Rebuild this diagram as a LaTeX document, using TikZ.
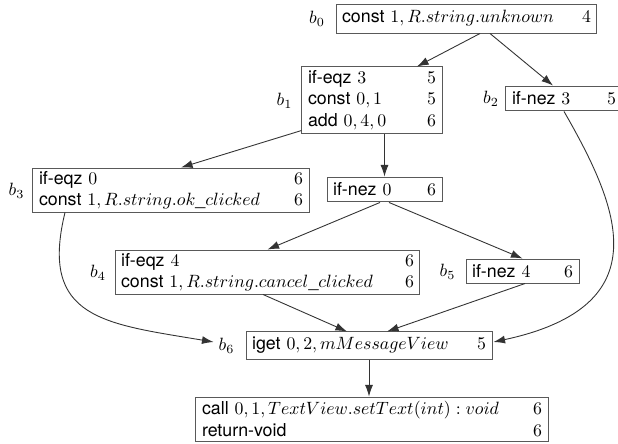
\documentclass[tikz,border=0pt]{standalone}
\usepackage{fontspec}
\setsansfont{TeX Gyre Heros}
\usetikzlibrary{arrows.meta,calc}
\tikzset{
  blk/.style={draw=black!65, line width=0.55pt, rectangle, inner xsep=3.4pt, inner ysep=0pt, align=left, font=\sffamily, anchor=center},
  lbl/.style={inner sep=1pt},
  edge/.style={draw=black!80, line width=0.5pt, -{Latex[length=6.5pt,width=4.5pt]}}
}
\begin{document}
\begin{tikzpicture}[x=0.5618pt,y=-0.5618pt]
\useasboundingbox (0,0) rectangle (618,443);
% blocks
\node[blk, text width=139.8pt, minimum height=16.3pt] (b0) at (466.5,18.5) {const $1, R.string.unknown$\hfill$4$};
\node[blk, text width=71.9pt, minimum height=37.1pt] (b1) at (372,100) {if-eqz $3$\hfill$5$\\const $0,1$\hfill$5$\\add $0,4,0$\hfill$6$};
\node[blk, text width=58.4pt, minimum height=14pt] (b2) at (564,98.5) {if-nez $3$\hfill$5$};
\node[blk, text width=57.8pt, minimum height=14pt] (n0) at (384.5,189.5) {if-nez $0$\hfill$6$};
\node[blk, text width=148.3pt, minimum height=24.7pt] (b3) at (171,190) {if-eqz $0$\hfill$6$\\const $1, R.string.ok\_clicked$\hfill$6$};
\node[blk, text width=164.5pt, minimum height=24.7pt] (b4) at (267.5,272) {if-eqz $4$\hfill$6$\\const $1, R.string.cancel\_clicked$\hfill$6$};
\node[blk, text width=56.7pt, minimum height=13.5pt] (b5) at (522.5,271) {if-nez $4$\hfill$6$};
\node[blk, text width=131.4pt, minimum height=15.2pt] (b6) at (369,345.5) {iget $0,2, mMessageView$\hfill$5$};
\node[blk, text width=191pt, minimum height=24.7pt] (b7) at (372,419) {call $0,1, TextView.setText(int) : void$\hfill$6$\\return-void\hfill$6$};
% labels
\node[lbl] (l0) at (317,19) {$b_0$};
\node[lbl] (l1) at (284.5,101) {$b_1$};
\node[lbl] (l2) at (491,99) {$b_2$};
\node[lbl] (l3) at (16.5,191) {$b_3$};
\node[lbl] (l4) at (98,273) {$b_4$};
\node[lbl] (l5) at (447.5,272) {$b_5$};
\node[lbl] (l6) at (226.5,346) {$b_6$};
% edges
\draw[edge] ($(b0.south)+(13.5,0)$) -- ($(b1.north)+(45,0)$);
\draw[edge] ($(b0.south)+(23.5,0)$) -- ($(b2.north)+(-11,0)$);
\draw[edge] (n0.north |- b1.south) -- (n0.north);
\draw[edge] ($(b1.south west)+(0,-3)$) -- ($(b3.north)+(10,0)$);
\draw[edge] ($(n0.south)+(-4.5,0)$) -- (b4.north);
\draw[edge] ($(n0.south)+(4.5,0)$) -- (b5.north);
\draw[edge] ($(b4.south)+(-4.5,0)$) -- ($(b6.north)+(-22,0)$);
\draw[edge] ($(b5.south)+(2.5,0)$) -- ($(b6.north)+(18,0)$);
\draw[edge] (b6.south) -- (b6.south |- b7.north);
\draw[edge] ($(b3.south)+(-106,0)$) .. controls (39,319) and (104.5,323.7) .. ($(l6.west)+(-3,-4)$);
\draw[edge] (b2.south) .. controls (619,207) and (661,306) .. ($(b6.east)+(1,-3.5)$);
\end{tikzpicture}
\end{document}
